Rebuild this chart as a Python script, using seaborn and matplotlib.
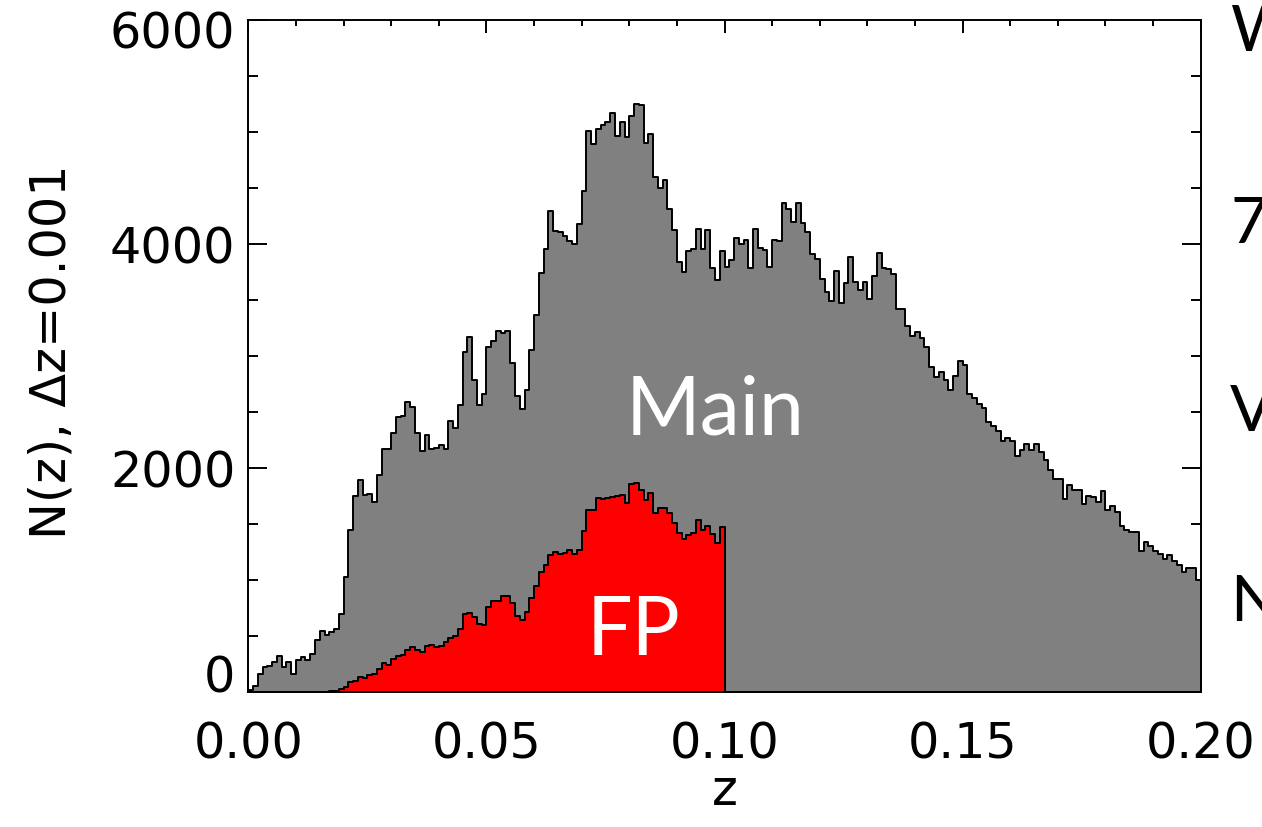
import numpy as np
import pandas as pd
import matplotlib
matplotlib.use("Agg")
import matplotlib.pyplot as plt
import matplotlib.transforms as mtransforms
import seaborn as sns

# ---- data: counts per dz=0.001 bin, z from 0.000 to 0.200 ----
bin_width = 0.001
n_bins = 200

main_counts = [
    20, 51, 164, 224, 233, 268, 319, 224, 268, 164,
    283, 313, 283, 343, 468, 546, 507, 537, 566, 700,
    1030, 1447, 1750, 1890, 1760, 1770, 1698, 1942, 2167, 2170,
    2310, 2453, 2465, 2590, 2543, 2313, 2155, 2298, 2170, 2179,
    2209, 2170, 2418, 2358, 2567, 3035, 3169, 2790, 2567, 2665,
    3082, 3133, 3222, 3208, 3222, 2939, 2647, 2528, 2695, 3053,
    3363, 3744, 3959, 4296, 4120, 4105, 4072, 4027, 3998, 4176,
    4475, 5011, 4892, 5026, 5062, 5086, 5169, 4966, 5086, 4957,
    5145, 5250, 5241, 4901, 4981, 4594, 4504, 4573, 4311, 4126,
    3840, 3750, 3938, 3953, 4132, 3953, 4126, 3789, 3679, 3938,
    3798, 3857, 4057, 3998, 4036, 3789, 4132, 3968, 3947, 3798,
    4036, 4027, 4370, 4311, 4197, 4370, 4191, 4108, 3908, 3869,
    3684, 3571, 3491, 3759, 3476, 3655, 3887, 3661, 3590, 3658,
    3512, 3714, 3923, 3789, 3780, 3729, 3422, 3422, 3267, 3178,
    3214, 3163, 3082, 2904, 2814, 2856, 2790, 2701, 2820, 2960,
    2924, 2665, 2626, 2576, 2537, 2409, 2373, 2328, 2239, 2269,
    2239, 2105, 2164, 2214, 2164, 2218, 2140, 2075, 1985, 1902,
    1902, 1723, 1851, 1800, 1806, 1681, 1753, 1741, 1693, 1792,
    1622, 1657, 1604, 1479, 1449, 1425, 1425, 1255, 1344, 1300,
    1255, 1234, 1186, 1225, 1174, 1136, 1076, 1106, 1106, 1002,
]

fp_first_bin = 17  # FP sample: bins 17 .. 99 (z = 0.017 .. 0.100)
fp_counts = [
    5, 12, 25,
    42, 86, 101, 131, 122, 152, 161, 203, 256, 241,
    292, 322, 331, 376, 400, 376, 355, 411, 417, 405,
    411, 450, 480, 504, 560, 698, 709, 674, 608, 599,
    757, 817, 817, 853, 859, 799, 680, 644, 712, 838,
    948, 1076, 1136, 1225, 1246, 1234, 1240, 1270, 1234, 1264,
    1434, 1628, 1628, 1732, 1723, 1732, 1741, 1753, 1762, 1687,
    1860, 1866, 1800, 1717, 1777, 1598, 1643, 1643, 1598, 1508,
    1419, 1365, 1404, 1419, 1532, 1449, 1479, 1413, 1330, 1473,
]

x_ticks = [0.00, 0.05, 0.10, 0.15, 0.20]
x_tick_labels = ["0.00", "0.05", "0.10", "0.15", "0.20"]
y_ticks = [0, 2000, 4000, 6000]
y_tick_labels = ["0", "2000", "4000", "6000"]
side_letters = ["W", "7", "V", "N"]

# ---- build tables ----
edges = [round(i * bin_width, 4) for i in range(n_bins + 1)]
centers = [round((i + 0.5) * bin_width, 5) for i in range(n_bins)]
main_df = pd.DataFrame({"z": centers, "n": main_counts})
fp_last = fp_first_bin + len(fp_counts)
fp_edges = edges[fp_first_bin:fp_last + 1]
fp_df = pd.DataFrame({"z": centers[fp_first_bin:fp_last], "n": fp_counts})

# ---- figure ----
sns.set_style("ticks")
plt.rcParams["font.family"] = ["DejaVu Sans"]
plt.rcParams["text.color"] = "black"
plt.rcParams["axes.labelcolor"] = "black"
plt.rcParams["xtick.color"] = "black"
plt.rcParams["ytick.color"] = "black"
plt.rcParams["xtick.labelcolor"] = "black"
plt.rcParams["ytick.labelcolor"] = "black"

fig = plt.figure(figsize=(12.62, 8.27), dpi=100)
ax = fig.add_axes([0.1968, 0.1632, 0.7546, 0.8126])

sns.histplot(data=main_df, x="z", weights="n", bins=edges, element="step",
             fill=True, color="#808080", alpha=1, edgecolor="black",
             linewidth=1.4, ax=ax)
sns.histplot(data=fp_df, x="z", weights="n", bins=fp_edges, element="step",
             fill=True, color="#ff0000", alpha=1, edgecolor="black",
             linewidth=1.4, ax=ax)

ax.set_xlim(0, 0.2)
ax.set_ylim(0, 6000)
ax.set_xticks(x_ticks)
ax.set_xticklabels(x_tick_labels)
ax.set_yticks(y_ticks)
ax.set_yticklabels(y_tick_labels)
ax.set_xticks(np.round(np.arange(0, 0.2001, 0.01), 3), minor=True)
ax.set_yticks(np.arange(0, 6001, 500), minor=True)

for s in ax.spines.values():
    s.set_visible(True)
    s.set_linewidth(1.4)
    s.set_color("black")

ax.tick_params(axis="x", which="major", direction="in", length=9.5, width=1.4,
               top=True, bottom=True, labelsize=35.5, pad=20.5,
               colors="black", labelcolor="black")
ax.tick_params(axis="x", which="minor", direction="in", length=4.5, width=1.4,
               top=True, bottom=True, colors="black")
ax.tick_params(axis="y", which="major", direction="in", length=13.7, width=1.4,
               left=True, right=True, labelsize=35.5, pad=9.4,
               colors="black", labelcolor="black")
ax.tick_params(axis="y", which="minor", direction="in", length=7.2, width=1.4,
               left=True, right=True, colors="black")

# end labels of the y axis sit inside the axis range, as in the reference
ylabels = ax.get_yticklabels()
ylabels[0].set_va("baseline")
ylabels[-1].set_va("top")
ylabels[-1].set_transform(ylabels[-1].get_transform() +
                          mtransforms.ScaledTranslation(0, 7 / 72, fig.dpi_scale_trans))

ax.set_xlabel("z", fontsize=35.5, color="black")
ax.set_ylabel("N(z), \u0394z=0.001", fontsize=35.5, color="black")
ax.xaxis.set_label_coords(0.5, -0.112)
ax.yaxis.set_label_coords(-0.1817, 0.507)

ax.text(0.490, 0.383, "Main", transform=ax.transAxes, color="white",
        fontsize=58, family=["Lato", "DejaVu Sans"], ha="center", va="baseline")
ax.text(0.405, 0.055, "FP", transform=ax.transAxes, color="white",
        fontsize=58, family=["Lato", "DejaVu Sans"], ha="center", va="baseline")

side_y = [0.9383, 0.7062, 0.4788, 0.2491]
for letter, yy in zip(side_letters, side_y):
    fig.text(0.9747, yy, letter, fontsize=46, family=["Lato", "DejaVu Sans"],
             color="black", ha="left", va="baseline")

fig.savefig("out.png", dpi=100)
